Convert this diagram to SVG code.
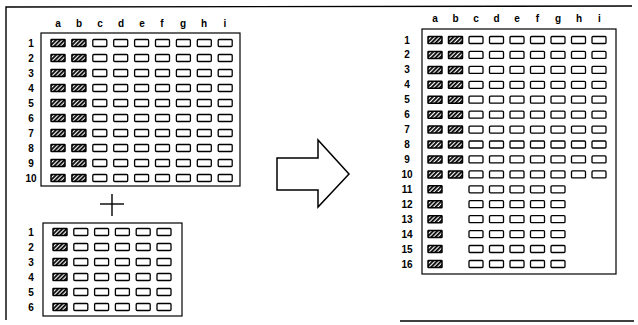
<svg xmlns="http://www.w3.org/2000/svg" xmlns:xlink="http://www.w3.org/1999/xlink" width="638" height="325" viewBox="0 0 638 325">
<style>
.frame{fill:none;stroke:#000;stroke-width:1.4}
.box{fill:none;stroke:#000;stroke-width:1.2}
.cell{fill:#fff;stroke:#000;stroke-width:1.3}
.hcell{fill:url(#hatch);stroke:#000;stroke-width:1.5}
text{font-family:"Liberation Sans",Arial,sans-serif;font-size:10px;font-weight:bold;fill:#000;text-anchor:middle}
.arrow{fill:#fff;stroke:#000;stroke-width:1.5;stroke-linejoin:miter}
.plus{stroke:#000;stroke-width:1.4;fill:none}
</style>
<defs>
<pattern id="hatch" patternUnits="userSpaceOnUse" width="3" height="3" patternTransform="rotate(45)">
<rect width="3" height="3" fill="#fff"/>
<line x1="0.9" y1="0" x2="0.9" y2="3" stroke="#000" stroke-width="1.8"/>
</pattern>
<rect id="c" class="cell" width="14" height="7" rx="1"/>
<rect id="h" class="hcell" width="14" height="7" rx="0.5"/>
<g id="rowL">
<use xlink:href="#h" x="0"/><use xlink:href="#h" x="20.9"/>
<use xlink:href="#c" x="41.8"/><use xlink:href="#c" x="62.7"/><use xlink:href="#c" x="83.6"/><use xlink:href="#c" x="104.5"/><use xlink:href="#c" x="125.4"/><use xlink:href="#c" x="146.3"/><use xlink:href="#c" x="167.2"/>
</g>
<g id="rowB">
<use xlink:href="#h" x="0"/>
<use xlink:href="#c" x="20.8"/><use xlink:href="#c" x="41.6"/><use xlink:href="#c" x="62.4"/><use xlink:href="#c" x="83.2"/><use xlink:href="#c" x="104"/>
</g>
<g id="rowR">
<use xlink:href="#h" x="0"/><use xlink:href="#h" x="20.5"/>
<use xlink:href="#c" x="41"/><use xlink:href="#c" x="61.5"/><use xlink:href="#c" x="82"/><use xlink:href="#c" x="102.5"/><use xlink:href="#c" x="123"/><use xlink:href="#c" x="143.5"/><use xlink:href="#c" x="164"/>
</g>
<g id="rowR2">
<use xlink:href="#h" x="0"/>
<use xlink:href="#c" x="41"/><use xlink:href="#c" x="61.5"/><use xlink:href="#c" x="82"/><use xlink:href="#c" x="102.5"/><use xlink:href="#c" x="123"/>
</g>
</defs>
<rect width="638" height="325" fill="#fff"/>
<g id="frame">
<polyline class="frame" points="632,6 6,7 6,320"/>
<line class="frame" x1="400" y1="321" x2="634" y2="321"/>
</g>
<g id="grid-top">
<rect class="box" x="41" y="33" width="199" height="153"/>
<text x="58" y="27">a</text><text x="79" y="27">b</text><text x="100" y="27">c</text><text x="121" y="27">d</text><text x="142" y="27">e</text><text x="162" y="27">f</text><text x="183" y="27">g</text><text x="204" y="27">h</text><text x="225" y="27">i</text>
<text x="31" y="46.5">1</text><text x="31" y="61.5">2</text><text x="31" y="76.5">3</text><text x="31" y="91.5">4</text><text x="31" y="106.5">5</text><text x="31" y="121.5">6</text><text x="31" y="136.5">7</text><text x="31" y="151.5">8</text><text x="31" y="166.5">9</text><text x="31" y="181.5">10</text>
<use xlink:href="#rowL" x="51" y="39.5"/><use xlink:href="#rowL" x="51" y="54.5"/><use xlink:href="#rowL" x="51" y="69.5"/><use xlink:href="#rowL" x="51" y="84.5"/><use xlink:href="#rowL" x="51" y="99.5"/><use xlink:href="#rowL" x="51" y="114.5"/><use xlink:href="#rowL" x="51" y="129.5"/><use xlink:href="#rowL" x="51" y="144.5"/><use xlink:href="#rowL" x="51" y="159.5"/><use xlink:href="#rowL" x="51" y="174.5"/>
</g>
<g id="plus">
<line class="plus" x1="100" y1="204" x2="124" y2="204"/>
<line class="plus" x1="112" y1="194" x2="112" y2="216"/>
</g>
<g id="grid-bottom">
<rect class="box" x="43" y="223" width="139" height="93"/>
<text x="31" y="235.5">1</text><text x="31" y="250.5">2</text><text x="31" y="265.5">3</text><text x="31" y="280.5">4</text><text x="31" y="295.5">5</text><text x="31" y="310.5">6</text>
<use xlink:href="#rowB" x="53" y="228.5"/><use xlink:href="#rowB" x="53" y="243.5"/><use xlink:href="#rowB" x="53" y="258.5"/><use xlink:href="#rowB" x="53" y="273.5"/><use xlink:href="#rowB" x="53" y="288.5"/><use xlink:href="#rowB" x="53" y="303.5"/>
</g>
<g id="connectors">
<polygon class="arrow" points="277,158 318,158 318,140 349,174 318,207 318,190 277,190"/>
</g>
<g id="grid-result">
<rect class="box" x="422" y="29" width="194" height="245"/>
<text x="435" y="22">a</text><text x="455.5" y="22">b</text><text x="476" y="22">c</text><text x="496.5" y="22">d</text><text x="517" y="22">e</text><text x="537.5" y="22">f</text><text x="558" y="22">g</text><text x="579" y="22">h</text><text x="599.5" y="22">i</text>
<text x="407" y="43.5">1</text><text x="407" y="58.4">2</text><text x="407" y="73.4">3</text><text x="407" y="88.3">4</text><text x="407" y="103.2">5</text><text x="407" y="118.2">6</text><text x="407" y="133.1">7</text><text x="407" y="148">8</text><text x="407" y="162.9">9</text><text x="407" y="177.9">10</text><text x="407" y="192.8">11</text><text x="407" y="207.7">12</text><text x="407" y="222.7">13</text><text x="407" y="237.6">14</text><text x="407" y="252.5">15</text><text x="407" y="267.5">16</text>
<use xlink:href="#rowR" x="428" y="36.5"/><use xlink:href="#rowR" x="428" y="51.4"/><use xlink:href="#rowR" x="428" y="66.4"/><use xlink:href="#rowR" x="428" y="81.3"/><use xlink:href="#rowR" x="428" y="96.2"/><use xlink:href="#rowR" x="428" y="111.2"/><use xlink:href="#rowR" x="428" y="126.1"/><use xlink:href="#rowR" x="428" y="141"/><use xlink:href="#rowR" x="428" y="155.9"/><use xlink:href="#rowR" x="428" y="170.9"/>
<use xlink:href="#rowR2" x="428" y="185.8"/><use xlink:href="#rowR2" x="428" y="200.7"/><use xlink:href="#rowR2" x="428" y="215.7"/><use xlink:href="#rowR2" x="428" y="230.6"/><use xlink:href="#rowR2" x="428" y="245.5"/><use xlink:href="#rowR2" x="428" y="260.5"/>
</g>
</svg>
